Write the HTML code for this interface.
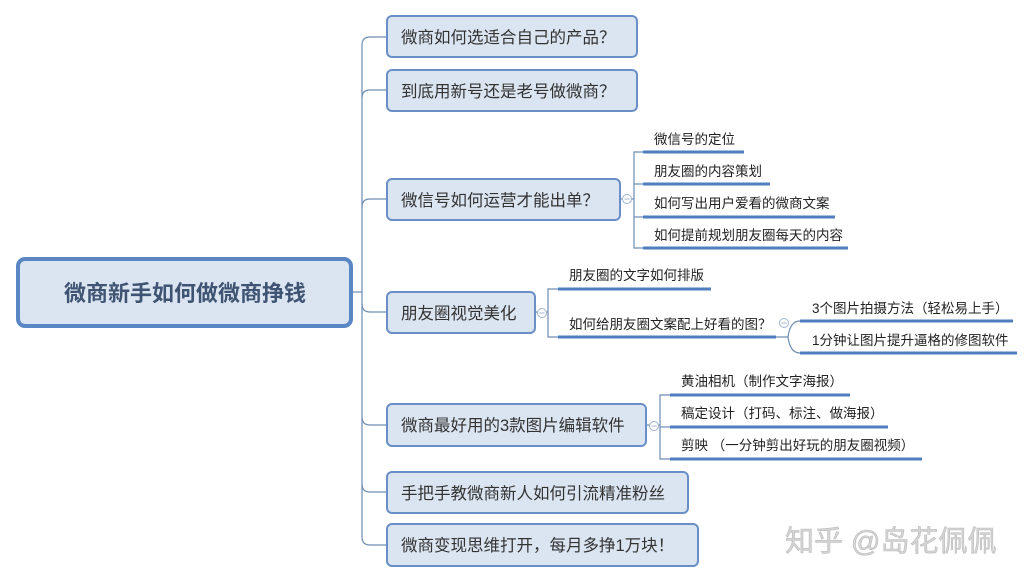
<!DOCTYPE html>
<html><head><meta charset="utf-8"><style>
html,body{margin:0;padding:0;background:#fff;width:1035px;height:583px;overflow:hidden}
svg text{font-family:"Liberation Sans","Noto Sans CJK SC",sans-serif;}
</style></head><body>
<svg width="1035" height="583" viewBox="0 0 1035 583" xmlns="http://www.w3.org/2000/svg">
<g fill="none" stroke="#6f8db5" stroke-width="1.2">
<line x1="353" y1="292" x2="362" y2="292"/>
<path d="M362 45 Q362 37 370 37 L387 37"/>
<line x1="362" y1="45" x2="362" y2="537"/>
<path d="M362 98 Q362 90 370 90 L387 90"/>
<path d="M362 207 Q362 199 370 199 L387 199"/>
<path d="M362 304 Q362 312 370 312 L387 312"/>
<path d="M362 417 Q362 425 370 425 L387 425"/>
<path d="M362 484 Q362 492 370 492 L387 492"/>
<path d="M362 537 Q362 545 370 545 L387 545"/>
<!-- box3 subs -->
<line x1="620" y1="199" x2="634" y2="199"/>
<path d="M643 152 L634 152 L634 248 L643 248"/>
<line x1="634" y1="184" x2="643" y2="184"/>
<line x1="634" y1="217" x2="643" y2="217"/>
<!-- box4 subs -->
<line x1="535" y1="312" x2="548" y2="312"/>
<path d="M558 289 L548 289 L548 337 L558 337"/>
<!-- 2nd level -->
<path d="M776 337 L788 337 Q790 321 800 321"/>
<path d="M788 337 Q790 353 800 353"/>
<!-- box5 subs -->
<line x1="646" y1="425" x2="660" y2="425"/>
<path d="M670 395 L660 395 L660 459 L670 459"/>
<line x1="660" y1="427" x2="670" y2="427"/>
</g>
<g fill="#fff" stroke="#9fb3cf" stroke-width="1">
<circle cx="627" cy="199" r="4.5"/><circle cx="542" cy="313" r="4.5"/><circle cx="784" cy="323" r="4.5"/><circle cx="654" cy="426" r="4.5"/>
</g>
<g stroke="#9fb3cf" stroke-width="1">
<line x1="624.5" y1="199" x2="629.5" y2="199"/><line x1="539.5" y1="313" x2="544.5" y2="313"/><line x1="781.5" y1="323" x2="786.5" y2="323"/><line x1="651.5" y1="426" x2="656.5" y2="426"/>
</g>
<!-- underlines -->
<g stroke="#4f7fbf" stroke-width="3">
<line x1="643" y1="152" x2="744" y2="152"/>
<line x1="643" y1="184" x2="770" y2="184"/>
<line x1="643" y1="217" x2="835" y2="217"/>
<line x1="643" y1="248" x2="848" y2="248"/>
<line x1="558" y1="289" x2="711" y2="289"/>
<line x1="558" y1="337" x2="776" y2="337"/>
<line x1="800" y1="321" x2="1013" y2="321"/>
<line x1="800" y1="353" x2="1017" y2="353"/>
<line x1="670" y1="395" x2="850" y2="395"/>
<line x1="670" y1="427" x2="888" y2="427"/>
<line x1="670" y1="459" x2="922" y2="459"/>
</g>
<!-- root -->
<rect x="18" y="259" width="333" height="67" rx="7" fill="#dbe5f1" stroke="#5a87c4" stroke-width="4"/>
<text x="185" y="301" text-anchor="middle" font-size="22" font-weight="bold" fill="#3f5473">微商新手如何做微商挣钱</text>
<!-- main boxes -->
<g fill="#dbe5f1" stroke="#6a8fc6" stroke-width="2">
<rect x="387" y="16" width="250" height="41" rx="5"/>
<rect x="387" y="70" width="250" height="41" rx="5"/>
<rect x="387" y="179" width="233" height="41" rx="5"/>
<rect x="387" y="292" width="148" height="41" rx="5"/>
<rect x="387" y="404" width="259" height="42" rx="5"/>
<rect x="387" y="472" width="301" height="41" rx="5"/>
<rect x="387" y="524" width="311" height="42" rx="5"/>
</g>
<g font-size="16.5" fill="#333">
<text x="401" y="43">微商如何选适合自己的产品？</text>
<text x="401" y="97">到底用新号还是老号做微商？</text>
<text x="401" y="206">微信号如何运营才能出单？</text>
<text x="401" y="319">朋友圈视觉美化</text>
<text x="401" y="431">微商最好用的3款图片编辑软件</text>
<text x="401" y="499">手把手教微商新人如何引流精准粉丝</text>
<text x="401" y="551">微商变现思维打开，每月多挣1万块！</text>
</g>
<g font-size="13.5" fill="#222">
<text x="654" y="144">微信号的定位</text>
<text x="654" y="176">朋友圈的内容策划</text>
<text x="654" y="208">如何写出用户爱看的微商文案</text>
<text x="654" y="240">如何提前规划朋友圈每天的内容</text>
<text x="569" y="280">朋友圈的文字如何排版</text>
<text x="569" y="329">如何给朋友圈文案配上好看的图？</text>
<text x="812" y="313">3个图片拍摄方法（轻松易上手）</text>
<text x="812" y="345">1分钟让图片提升逼格的修图软件</text>
<text x="681" y="386">黄油相机（制作文字海报）</text>
<text x="681" y="418">稿定设计（打码、标注、做海报）</text>
<text x="681" y="450">剪映 （一分钟剪出好玩的朋友圈视频）</text>
</g>
<text x="785" y="551" font-size="29" fill="#d4d4d4" stroke="#bdbdbd" stroke-width="0.6">知乎 @岛花佩佩</text>
</svg>
</body></html>
